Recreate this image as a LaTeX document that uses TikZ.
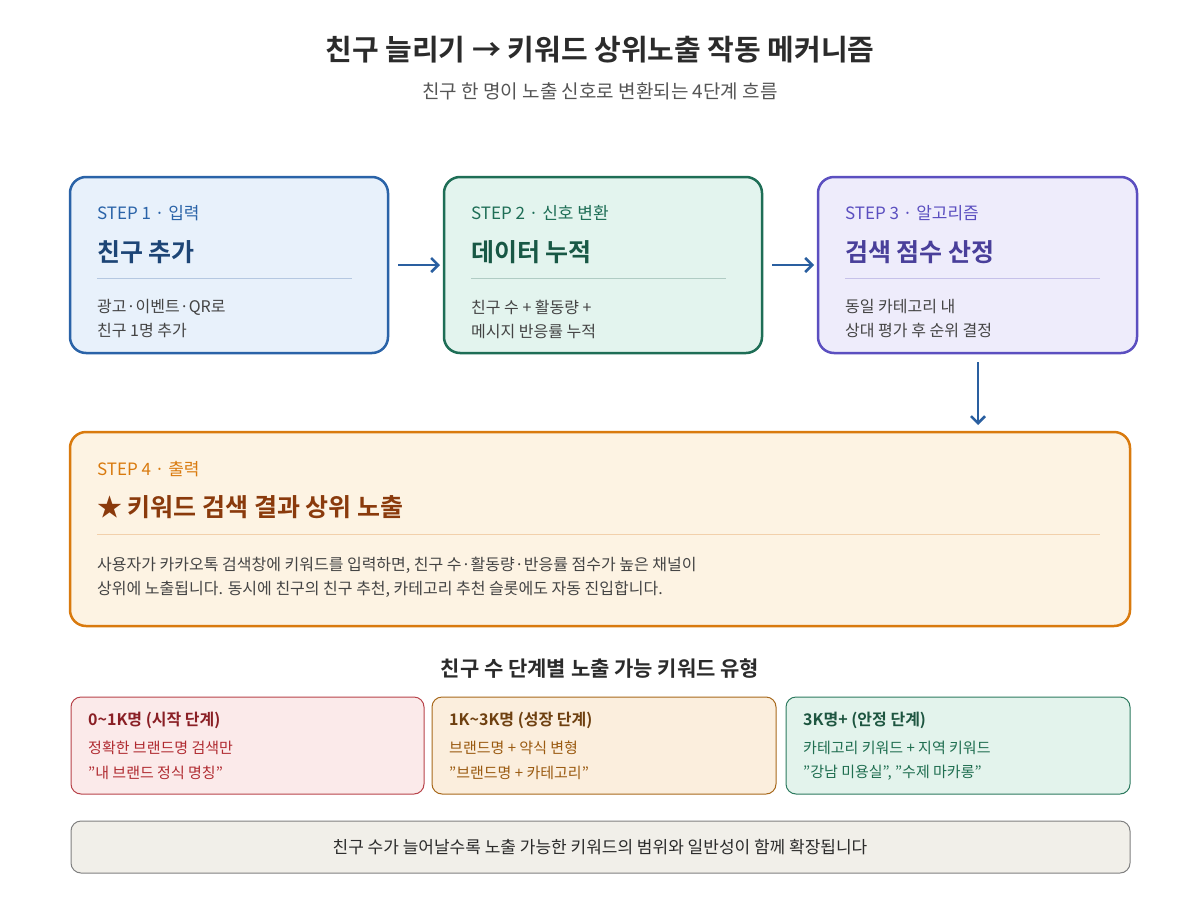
\documentclass[tikz,border=0pt]{standalone}
\usepackage{fontspec}
\setmainfont{Noto Sans CJK KR}
\newfontfamily\bfk{Noto Sans CJK KR Bold}
\usetikzlibrary{arrows.meta}
\definecolor{ink}{HTML}{2B2B2B}
\definecolor{gry}{HTML}{555555}
\definecolor{bA}{HTML}{2A63A8}\definecolor{fA}{HTML}{E8F1FB}
\definecolor{bB}{HTML}{1E6E56}\definecolor{fB}{HTML}{E3F4EE}
\definecolor{bC}{HTML}{5B4FC0}\definecolor{fC}{HTML}{EEECFB}
\definecolor{bD}{HTML}{D97A0E}\definecolor{fD}{HTML}{FDF3E3}\definecolor{tD}{HTML}{8A3A0C}
\definecolor{ra}{HTML}{B8434A}\definecolor{rf}{HTML}{FBEAEA}\definecolor{rt}{HTML}{8A1F25}\definecolor{rx}{HTML}{B02A30}
\definecolor{oa}{HTML}{A8691C}\definecolor{of}{HTML}{FBEEDD}\definecolor{ot}{HTML}{6E4010}\definecolor{ox}{HTML}{9A5A10}
\definecolor{ga}{HTML}{2D7A5F}\definecolor{gf}{HTML}{E3F3EC}\definecolor{gt}{HTML}{1D5540}\definecolor{gx}{HTML}{1F6E50}
\definecolor{arr}{HTML}{2A5FA0}
\tikzset{
 stepbox/.style={rounded corners=16pt,line width=2.5pt},
 tierbox/.style={rounded corners=10pt,line width=1pt},
 lbl/.style={anchor=west,inner sep=0pt,font=\fontsize{17}{20}\selectfont},
 ttl/.style={anchor=west,inner sep=0pt,font=\bfk\fontsize{25}{30}\selectfont},
 body/.style={anchor=west,inner sep=0pt,font=\fontsize{16}{24}\selectfont,text=gry!80!black,align=left},
 tl/.style={anchor=west,inner sep=0pt,font=\bfk\fontsize{16}{20}\selectfont},
 tx/.style={anchor=west,inner sep=0pt,font=\fontsize{15}{20}\selectfont},
 flow/.style={-{Straight Barb[length=7pt,width=14pt]},line width=2.5pt,draw=arr}
}
\begin{document}
\begin{tikzpicture}[x=1pt,y=-1pt]
\path[use as bounding box,fill=white] (0,0) rectangle (1200,900);
\node[font=\bfk\fontsize{29}{34}\selectfont,text=ink] (title) at (600,50) {친구 늘리기 → 키워드 상위노출 작동 메커니즘};
\node[font=\fontsize{19}{24}\selectfont,text=gry] (sub) at (600,91) {친구 한 명이 노출 신호로 변환되는 4단계 흐름};
% step boxes
\draw[stepbox,draw=bA,fill=fA] (70,177) rectangle (388,353);
\node (s1) at (229,265) {};
\node[lbl,text=bA] at (97,213) {STEP 1 · 입력};
\node[ttl,text=bA!70!black] at (97,252) {친구 추가};
\draw[bA!35,line width=1pt] (97,278) -- (352,278);
\node[body] at (97,319) {광고·이벤트·QR로\\친구 1명 추가};
\draw[stepbox,draw=bB,fill=fB] (444,177) rectangle (762,353);
\node (s2) at (603,265) {};
\node[lbl,text=bB] at (471,213) {STEP 2 · 신호 변환};
\node[ttl,text=bB!80!black] at (471,252) {데이터 누적};
\draw[bB!35,line width=1pt] (471,278) -- (726,278);
\node[body] at (471,319) {친구 수 + 활동량 +\\메시지 반응률 누적};
\draw[stepbox,draw=bC,fill=fC] (818,177) rectangle (1137,353);
\node (s3) at (978,265) {};
\node[lbl,text=bC] at (845,213) {STEP 3 · 알고리즘};
\node[ttl,text=bC!80!black] at (845,252) {검색 점수 산정};
\draw[bC!35,line width=1pt] (845,278) -- (1100,278);
\node[body] at (845,319) {동일 카테고리 내\\상대 평가 후 순위 결정};
\coordinate (a1s) at (398,265); \coordinate (a1e) at (440,265);
\coordinate (a2s) at (772,265); \coordinate (a2e) at (814,265);
\coordinate (a3s) at (978,362); \coordinate (a3e) at (978,425);
\draw[flow] (a1s) -- (a1e);
\draw[flow] (a2s) -- (a2e);
\draw[flow] (a3s) -- (a3e);
% step 4
\draw[stepbox,draw=bD,fill=fD] (70,432) rectangle (1130,626);
\node[lbl,text=bD] at (97,469) {STEP 4 · 출력};
\node[ttl,text=tD] at (97,507) {★ 키워드 검색 결과 상위 노출};
\draw[bD!35,line width=1pt] (97,534) -- (1100,534);
\node[body] at (97,577) {사용자가 카카오톡 검색창에 키워드를 입력하면, 친구 수·활동량·반응률 점수가 높은 채널이\\상위에 노출됩니다. 동시에 친구의 친구 추천, 카테고리 추천 슬롯에도 자동 진입합니다.};
% tiers
\node[font=\bfk\fontsize{21}{26}\selectfont,text=ink] (h) at (600,669) {친구 수 단계별 노출 가능 키워드 유형};
\draw[tierbox,draw=ra,fill=rf] (71,697) rectangle (424,794);
\node[tl,text=rt] at (88,720) {0\textasciitilde1K명 (시작 단계)};
\node[tx,text=rx] at (88,748) {정확한 브랜드명 검색만};
\node[tx,text=rx] at (88,773) {"내 브랜드 정식 명칭"};
\draw[tierbox,draw=oa,fill=of] (432,697) rectangle (776,794);
\node[tl,text=ot] at (449,720) {1K\textasciitilde3K명 (성장 단계)};
\node[tx,text=ox] at (449,748) {브랜드명 + 약식 변형};
\node[tx,text=ox] at (449,773) {"브랜드명 + 카테고리"};
\draw[tierbox,draw=ga,fill=gf] (786,697) rectangle (1130,794);
\node[tl,text=gt] at (803,720) {3K명+ (안정 단계)};
\node[tx,text=gx] at (803,748) {카테고리 키워드 + 지역 키워드};
\node[tx,text=gx] at (803,773) {"강남 미용실", "수제 마카롱"};
\draw[tierbox,draw=gray,fill={rgb,255:red,241;green,239;blue,233}] (71,821) rectangle (1130,873);
\node[font=\fontsize{17}{22}\selectfont,text=ink] (foot) at (600,847) {친구 수가 늘어날수록 노출 가능한 키워드의 범위와 일반성이 함께 확장됩니다};
\end{tikzpicture}
\end{document}
